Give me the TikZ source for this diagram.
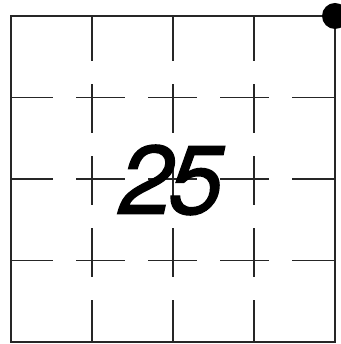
\documentclass[tikz,border=0pt]{standalone}
\usepackage{fontspec}
\setsansfont{TeX Gyre Heros}
\newfontfamily\numfont{TeX Gyre Heros Italic}[FakeBold=1.4]
\usepackage{xcolor}
\usepackage{tikz}
\definecolor{cInk}{HTML}{262626}
\definecolor{cDot}{HTML}{000000}

\begin{document}
\begin{tikzpicture}[x=0.25mm,y=0.25mm,
  frame/.style={draw=cInk,line width=1.1pt},
  gridline/.style={draw=cInk,line width=0.9pt,dash pattern=on 12.25mm off 5.75mm,dash phase=1.75mm},
  numlabel/.style={font=\numfont\fontsize{69}{69}\selectfont,inner sep=0pt}]
  \useasboundingbox (0,0) rectangle (340,344);
  % inner grid, broken lines
  \foreach \i in {1,2,3} {
    \draw[gridline] (11+81*\i,2) -- (11+81*\i,328);
    \draw[gridline] (11,2+81.5*\i) -- (335,2+81.5*\i);
  }
  % outer square
  \draw[frame] (11,2) rectangle (335,328);
  % corner mark
  \fill[cDot] (335,328) circle (13);
  \node[numlabel] (num) at (171,164) {2\kern-3pt5};
\end{tikzpicture}
\end{document}
